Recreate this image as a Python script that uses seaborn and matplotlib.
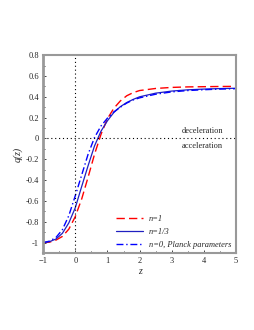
import numpy as np
import pandas as pd
import matplotlib
matplotlib.use('Agg')
import matplotlib.pyplot as plt
import seaborn as sns
from matplotlib.ticker import MultipleLocator

# redshift grid and deceleration parameter
z = [-1.0, -0.8, -0.6, -0.4, -0.2, 0.0, 0.2, 0.4, 0.6, 0.8, 1.0, 1.2, 1.4,
     1.6, 1.8, 2.0, 2.5, 3.0, 3.5, 4.0, 4.5, 5.0]
q_n1 = [-1.0, -0.995, -0.975, -0.94, -0.87, -0.75, -0.58, -0.37, -0.15, 0.04,
        0.19, 0.29, 0.36, 0.41, 0.44, 0.46, 0.48, 0.49, 0.495, 0.497, 0.499, 0.5]
q_n13 = [-1.0, -0.99, -0.965, -0.91, -0.81, -0.665, -0.46, -0.26, -0.07, 0.07,
         0.17, 0.25, 0.305, 0.345, 0.375, 0.40, 0.435, 0.455, 0.467, 0.474, 0.479, 0.482]
q_n0 = [-1.0, -0.985, -0.95, -0.875, -0.74, -0.55, -0.35, -0.15, 0.01, 0.12,
        0.195, 0.255, 0.30, 0.34, 0.37, 0.39, 0.425, 0.447, 0.46, 0.468, 0.474, 0.478]
labels = ['n=1', 'n=1/3', 'n=0, Planck parameters']

sns.set_style('white')
plt.rcParams['font.family'] = ['Liberation Serif', 'DejaVu Serif']

fig = plt.figure(figsize=(2.55, 3.3), dpi=100)
ax = fig.add_axes([0.169, 0.233, 0.757, 0.6])

df = pd.DataFrame({'z': z, 'n1': q_n1, 'n13': q_n13, 'n0': q_n0})
sns.lineplot(data=df, x='z', y='n1', ax=ax, color='red', lw=1.0,
             linestyle=(0, (6, 3)), label=labels[0])
sns.lineplot(data=df, x='z', y='n13', ax=ax, color='#2020c0', lw=0.9,
             linestyle='-', label=labels[1])
sns.lineplot(data=df, x='z', y='n0', ax=ax, color='blue', lw=1.0,
             linestyle=(0, (5, 2, 1, 2)), label=labels[2])

ax.axhline(0, color='black', lw=0.8, linestyle=(0, (1, 2.5)))
ax.axvline(0, color='black', lw=0.8, linestyle=(0, (1, 2.5)))

ax.text(3.95, 0.073, 'deceleration', ha='center', va='center', fontsize=6)
ax.text(3.95, -0.075, 'acceleration', ha='center', va='center', fontsize=6)

ax.set_xlim(-1, 5)
ax.set_ylim(-1.1, 0.8)
ax.xaxis.set_major_locator(MultipleLocator(1))
ax.xaxis.set_minor_locator(MultipleLocator(0.5))
ax.yaxis.set_minor_locator(MultipleLocator(0.1))
ax.set_yticks([-1, -0.8, -0.6, -0.4, -0.2, 0, 0.2, 0.4, 0.6, 0.8])
ax.set_yticklabels(['-1', '-0.8', '-0.6', '-0.4', '-0.2', '0', '0.2', '0.4', '0.6', '0.8'])
ax.tick_params(which='both', direction='in', labelsize=6, length=2, width=0.6,
               bottom=True, left=True, pad=3)
ax.tick_params(which='minor', length=1.2)

for s in ax.spines.values():
    s.set_color('#999999')
    s.set_linewidth(1.5)
ax.spines['left'].set_linewidth(2)

ax.set_xlabel('z', fontsize=7, style='italic', labelpad=1)
ax.set_ylabel('q(z)', fontsize=7, style='italic', labelpad=2)

leg = ax.legend(loc='lower right', frameon=False, handlelength=3.2,
                labelspacing=0.6, borderaxespad=0.15, prop={'style': 'italic', 'size': 6})

fig.savefig('out.png', dpi=100)
